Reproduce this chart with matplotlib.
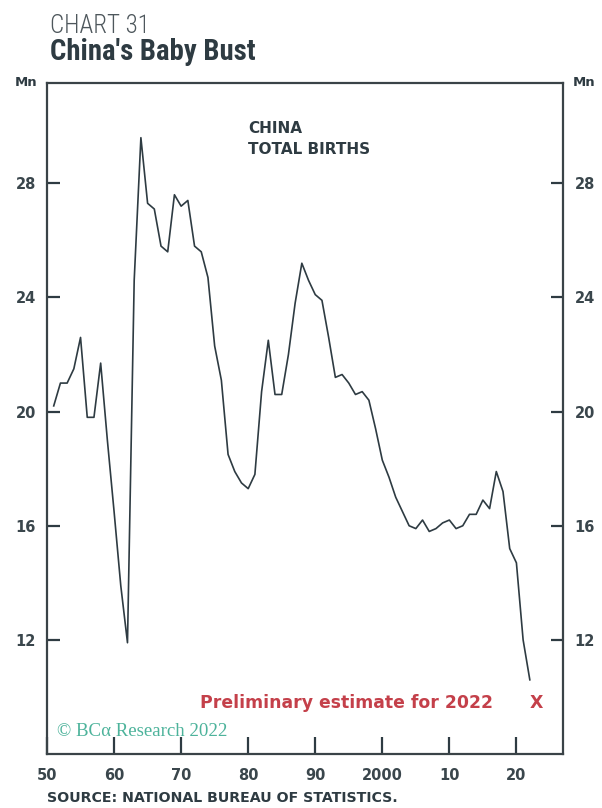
import numpy as np
import matplotlib.pyplot as plt
from matplotlib import font_manager

# China total births, millions (NBS), 1950-2021
years = np.arange(1950, 2022)
births = [20.2, 21.0, 21.0, 21.5, 22.6, 19.8, 19.8, 21.7, 19.0, 16.5,
          13.9, 11.9, 24.6, 29.6, 27.3, 27.1, 25.8, 25.6, 27.6, 27.2,
          27.4, 25.8, 25.6, 24.7, 22.3, 21.1, 18.5, 17.9, 17.5, 17.3,
          17.8, 20.7, 22.5, 20.6, 20.6, 22.0, 23.8, 25.2, 24.6, 24.1,
          23.9, 22.6, 21.2, 21.3, 21.0, 20.6, 20.7, 20.4, 19.4, 18.3,
          17.7, 17.0, 16.5, 16.0, 15.9, 16.2, 15.8, 15.9, 16.1, 16.2,
          15.9, 16.0, 16.4, 16.4, 16.9, 16.6, 17.9, 17.2, 15.2, 14.7,
          12.0, 10.6]
est_year = 2022
est_value = 9.8

xticks = [1950, 1960, 1970, 1980, 1990, 2000, 2010, 2020]
xticklabels = ["50", "60", "70", "80", "90", "2000", "10", "20"]
yticks = [12, 16, 20, 24, 28]

dark = "#2e3b42"
red = "#c4404a"
teal = "#4db39b"


def first_font(names):
    have = {f.name for f in font_manager.fontManager.ttflist}
    for n in names:
        if n in have:
            return n
    return "DejaVu Sans"


narrow = first_font(["Roboto Condensed", "Liberation Sans Narrow", "Roboto"])

fig = plt.figure(figsize=(6.02, 8.08), dpi=100)
ax = fig.add_axes([0.0781, 0.0668, 0.8577, 0.8299])

# annual totals are plotted at year end
ax.plot(years + 1, births, color=dark, lw=1.2)
ax.text(est_year + 1, est_value, "X", color=red, fontsize=12.5, fontweight="bold",
        ha="center", va="center")
ax.text(2016.5, est_value, "Preliminary estimate for 2022", color=red,
        fontsize=12.4, fontweight="bold", ha="right", va="center")

ax.set_xlim(1950, 2027)
ax.set_ylim(8, 31.5)

ax.set_xticks(xticks)
ax.set_xticklabels(xticklabels)
ax.set_yticks(yticks)
ax.tick_params(axis="x", direction="in", length=12, width=1.6, color=dark,
               labelsize=10.5, labelcolor="#3a464c", pad=10)
ax.tick_params(axis="y", direction="in", length=9, width=1.6, color=dark,
               labelsize=10.5, labelcolor="#3a464c", pad=8,
               left=True, right=True, labelleft=True, labelright=True)
for lab in ax.get_xticklabels() + ax.get_yticklabels():
    lab.set_fontweight("bold")
for sp in ax.spines.values():
    sp.set_color("#3a4347")
    sp.set_linewidth(1.6)

ax.text(1980, 29.92, "CHINA", color=dark, fontsize=11, fontweight="bold",
        ha="left", va="center")
ax.text(1980, 29.18, "TOTAL BIRTHS", color=dark, fontsize=11, fontweight="bold",
        ha="left", va="center")
ax.text(1951.5, 8.8, "\u00a9 BC\u03b1 Research 2022", color=teal, fontsize=13.6,
        family="Liberation Serif", ha="left", va="center")

# titles and unit labels in figure pixels
W, H = 602, 808
fig.text(50 / W, 1 - 33 / H, "CHART 31", color="#4e575c", fontsize=18,
         family=narrow, fontweight="light", ha="left", va="baseline")
fig.text(50 / W, 1 - 60 / H, "China's Baby Bust", color=dark, fontsize=20.7,
         family=narrow, fontweight="bold", ha="left", va="baseline")
fig.text(37 / W, 1 - 82 / H, "Mn", color=dark, fontsize=9.5, fontweight="bold",
         ha="right", va="center")
fig.text(573 / W, 1 - 82 / H, "Mn", color=dark, fontsize=9.5, fontweight="bold",
         ha="left", va="center")
fig.text(47 / W, 1 - 798 / H, "SOURCE: NATIONAL BUREAU OF STATISTICS.",
         color=dark, fontsize=10.2, fontweight="bold", ha="left", va="center")

fig.savefig("out.png", dpi=100, facecolor="white")
